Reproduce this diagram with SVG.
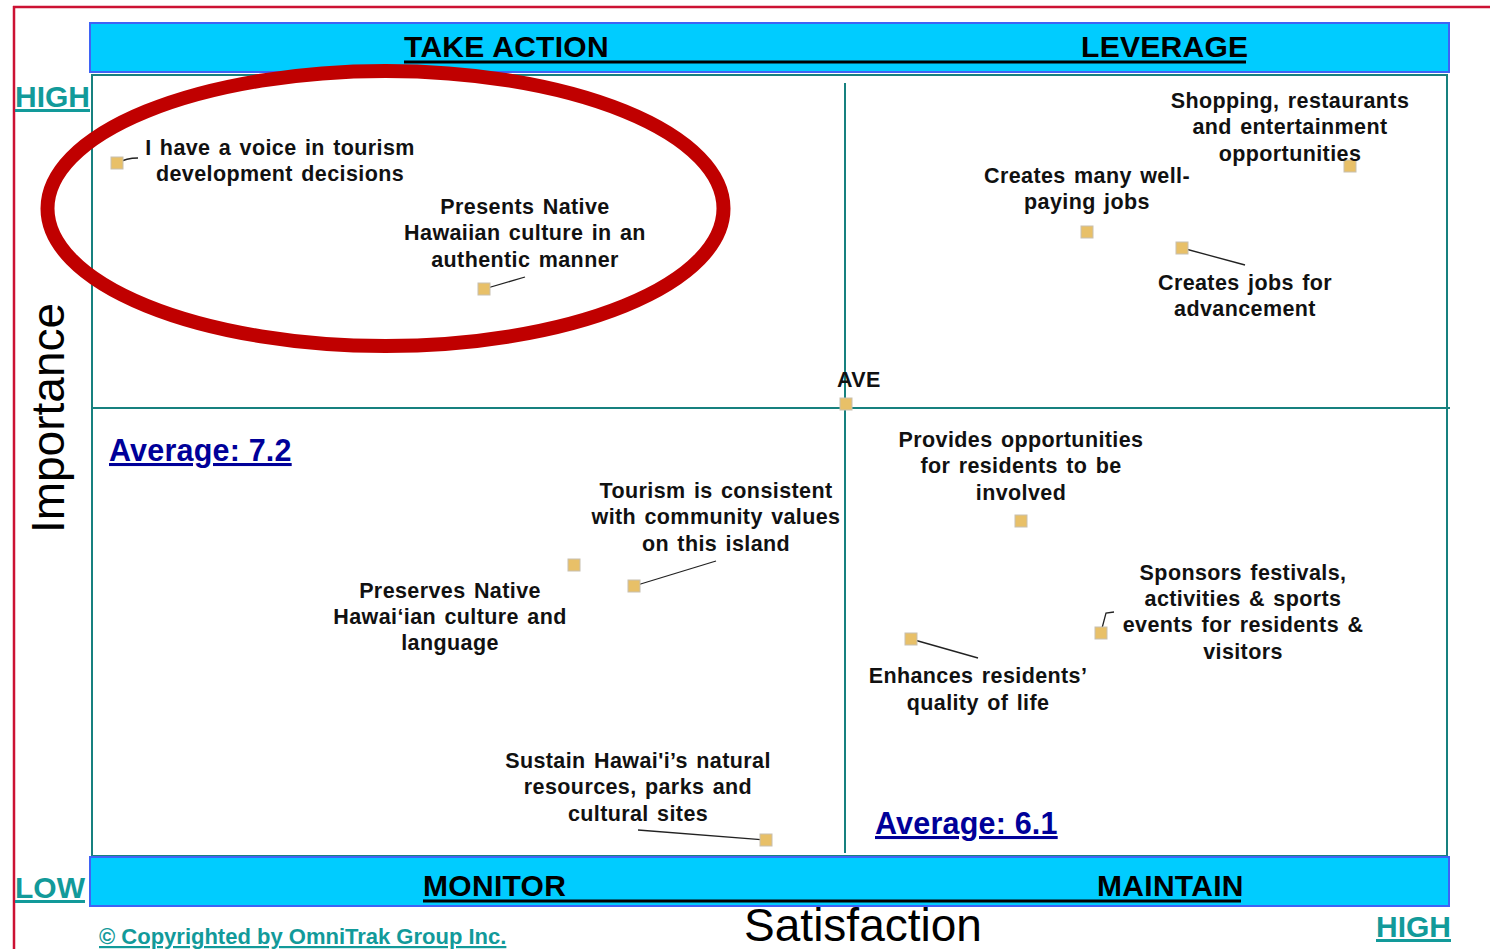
<svg xmlns="http://www.w3.org/2000/svg" width="1490" height="949" viewBox="0 0 1490 949">
<style>
.lbl{font-family:"Liberation Sans",Arial,sans-serif;font-weight:bold;font-size:21.5px;fill:#111;text-anchor:middle;letter-spacing:0.4px;word-spacing:2px}
.hdr{font-family:"Liberation Sans",Arial,sans-serif;font-weight:bold;font-size:30px;fill:#000;letter-spacing:0.3px}
.teal{font-family:"Liberation Sans",Arial,sans-serif;font-weight:bold;font-size:30px;fill:#129A9A;text-decoration:underline}
.avg{font-family:"Liberation Sans",Arial,sans-serif;font-weight:bold;font-size:30.5px;fill:#000099;text-decoration:underline;letter-spacing:0.2px}
.axis{font-family:"Liberation Sans",Arial,sans-serif;font-size:46px;fill:#000}
.pt{fill:#E8C068;stroke:#C8C0B0;stroke-width:1}
.ld{stroke:#222;stroke-width:1.3;fill:none}
.grid{stroke:#17817F;stroke-width:2;fill:none}
.bar{fill:#00CCFF;stroke:#3F63F5;stroke-width:2}
</style>
<rect width="1490" height="949" fill="#fff"/>
<g id="frame">
<line x1="13" y1="7" x2="1490" y2="7" stroke="#CC1133" stroke-width="2.5"/>
<line x1="14" y1="6" x2="14" y2="949" stroke="#CC1133" stroke-width="2.5"/>
</g>
<g id="plot">
<rect class="grid" x="92" y="75" width="1355" height="781"/>
<line class="grid" x1="845" y1="83" x2="845" y2="853"/>
<line class="grid" x1="92" y1="408" x2="1450" y2="408"/>
</g>
<g id="top-bar">
<rect class="bar" x="90" y="23" width="1359" height="49"/>
<text class="hdr" x="404" y="57">TAKE ACTION</text>
<text class="hdr" x="1081" y="57">LEVERAGE</text>
<line x1="404" y1="62" x2="1246" y2="62" stroke="#000" stroke-width="3"/>
</g>
<g id="bottom-bar">
<rect class="bar" x="90" y="857" width="1359" height="49"/>
<text class="hdr" x="423" y="896">MONITOR</text>
<text class="hdr" x="1097" y="896">MAINTAIN</text>
<line x1="423" y1="901" x2="1241" y2="901" stroke="#000" stroke-width="3"/>
</g>
<g id="axis-labels">
<text class="teal" x="15" y="107">HIGH</text>
<text class="teal" x="15" y="898">LOW</text>
<text class="teal" x="1376" y="937">HIGH</text>
<text class="teal" x="99" y="944" style="font-size:22px">© Copyrighted by OmniTrak Group Inc.</text>
<text class="axis" x="863" y="941" text-anchor="middle">Satisfaction</text>
<text class="axis" transform="translate(64,418) rotate(-90)" text-anchor="middle">Importance</text>
</g>
<g id="averages">
<text class="avg" x="109" y="461">Average: 7.2</text>
<text class="avg" x="875" y="834">Average: 6.1</text>
</g>
<g id="connectors">
<path class="ld" d="M118,163 Q126,158 138,158"/>
<line class="ld" x1="484" y1="289" x2="525" y2="277"/>
<line class="ld" x1="1182" y1="248" x2="1245" y2="265"/>
<line class="ld" x1="634" y1="586" x2="716" y2="561"/>
<line class="ld" x1="911" y1="639" x2="978" y2="658"/>
<polyline class="ld" points="1101,632 1106,613 1114,612"/>
<line class="ld" x1="766" y1="840" x2="638" y2="830"/>
</g>
<g id="n-voice">
<rect class="pt" x="111" y="157" width="12" height="12"/>
<text class="lbl" x="280" y="155">I have a voice in tourism</text>
<text class="lbl" x="280" y="181">development decisions</text>
</g>
<g id="n-presents">
<rect class="pt" x="478" y="283" width="12" height="12"/>
<text class="lbl" x="525" y="214">Presents Native</text>
<text class="lbl" x="525" y="240">Hawaiian culture in an</text>
<text class="lbl" x="525" y="267">authentic manner</text>
</g>
<g id="n-shopping">
<rect class="pt" x="1344" y="160" width="12" height="12"/>
<text class="lbl" x="1290" y="108">Shopping, restaurants</text>
<text class="lbl" x="1290" y="134">and entertainment</text>
<text class="lbl" x="1290" y="161">opportunities</text>
</g>
<g id="n-wellpaying">
<rect class="pt" x="1081" y="226" width="12" height="12"/>
<text class="lbl" x="1087" y="183">Creates many well-</text>
<text class="lbl" x="1087" y="209">paying jobs</text>
</g>
<g id="n-advancement">
<rect class="pt" x="1176" y="242" width="12" height="12"/>
<text class="lbl" x="1245" y="290">Creates jobs for</text>
<text class="lbl" x="1245" y="316">advancement</text>
</g>
<g id="n-ave">
<rect class="pt" x="840" y="398" width="12" height="12"/>
<text class="lbl" x="837" y="387" style="text-anchor:start">AVE</text>
</g>
<g id="n-provides">
<rect class="pt" x="1015" y="515" width="12" height="12"/>
<text class="lbl" x="1021" y="447">Provides opportunities</text>
<text class="lbl" x="1021" y="473">for residents to be</text>
<text class="lbl" x="1021" y="500">involved</text>
</g>
<g id="n-preserves">
<rect class="pt" x="568" y="559" width="12" height="12"/>
<text class="lbl" x="450" y="598">Preserves Native</text>
<text class="lbl" x="450" y="624">Hawai‘ian culture and</text>
<text class="lbl" x="450" y="650">language</text>
</g>
<g id="n-tourism">
<rect class="pt" x="628" y="580" width="12" height="12"/>
<text class="lbl" x="716" y="498">Tourism is consistent</text>
<text class="lbl" x="716" y="524">with community values</text>
<text class="lbl" x="716" y="551">on this island</text>
</g>
<g id="n-enhances">
<rect class="pt" x="905" y="633" width="12" height="12"/>
<text class="lbl" x="978" y="683">Enhances residents’</text>
<text class="lbl" x="978" y="710">quality of life</text>
</g>
<g id="n-sponsors">
<rect class="pt" x="1095" y="627" width="12" height="12"/>
<text class="lbl" x="1243" y="580">Sponsors festivals,</text>
<text class="lbl" x="1243" y="606">activities &amp; sports</text>
<text class="lbl" x="1243" y="632">events for residents &amp;</text>
<text class="lbl" x="1243" y="659">visitors</text>
</g>
<g id="n-sustain">
<rect class="pt" x="760" y="834" width="12" height="12"/>
<text class="lbl" x="638" y="768">Sustain Hawai'i’s natural</text>
<text class="lbl" x="638" y="794">resources, parks and</text>
<text class="lbl" x="638" y="821">cultural sites</text>
</g>
<g id="highlight">
<ellipse cx="385.5" cy="208.5" rx="338" ry="137.5" fill="none" stroke="#C00000" stroke-width="14"/>
</g>
</svg>
